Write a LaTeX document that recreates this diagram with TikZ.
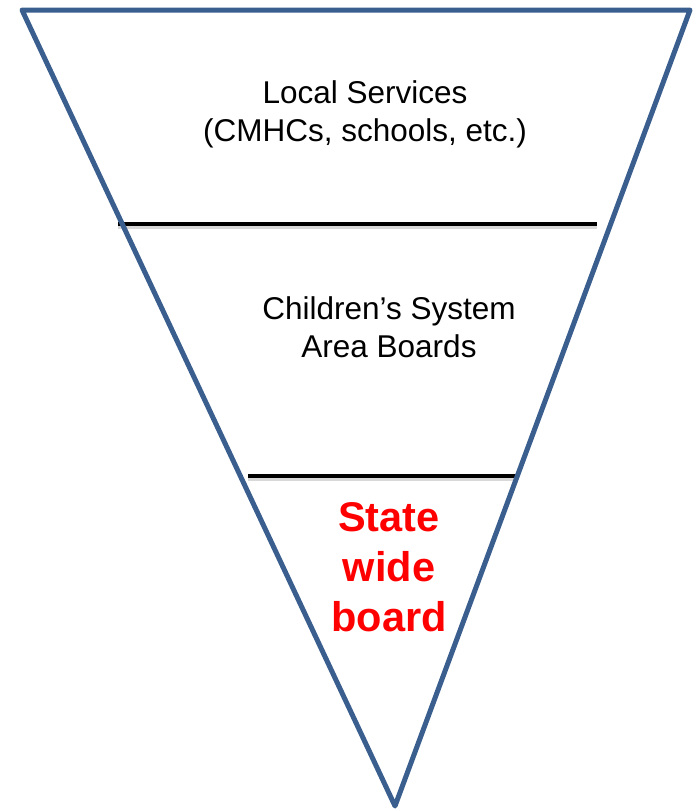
\documentclass[tikz,border=0pt]{standalone}
\usepackage{fontspec}
\setmainfont{Liberation Sans}
\definecolor{triblue}{HTML}{3A5F8F}
\definecolor{boardred}{HTML}{FF0000}
\begin{document}
\begin{tikzpicture}[x=1pt,y=-1pt,
  tri/.style={draw=triblue,line width=5pt,line join=round},
  divider/.style={draw=black,line width=4.6pt},
  shadowline/.style={draw=black!30,line width=4.5pt,opacity=0.5},
  label/.style={align=center,font=\fontsize{31.5}{38}\selectfont,inner sep=0pt},
  redlabel/.style={align=center,font=\fontsize{41.5}{50}\selectfont\bfseries,text=boardred,inner sep=0pt}]
\useasboundingbox (0,0) rectangle (697,811);
\coordinate (tl) at (22,10);
\coordinate (tr) at (690,10);
\coordinate (bt) at (395,806);
\coordinate (a1) at (118,224);
\coordinate (a2) at (597,224);
\coordinate (b1) at (248,476);
\coordinate (b2) at (517,476);
\draw[shadowline] ([yshift=-3]a1) -- ([yshift=-3]a2);
\draw[shadowline] ([yshift=-3]b1) -- ([yshift=-3]b2);
\draw[divider] (a1) -- (a2);
\draw[divider] (b1) -- (b2);
\draw[tri] (tl) -- (tr) -- (bt) -- cycle;
\node[label] (local) at (365,114) {Local Services\\(CMHCs, schools, etc.)};
\node[label] (child) at (389,327) {Children’s System\\Area Boards};
\node[redlabel] (state) at (389,567) {State\\wide\\board};
\end{tikzpicture}
\end{document}
